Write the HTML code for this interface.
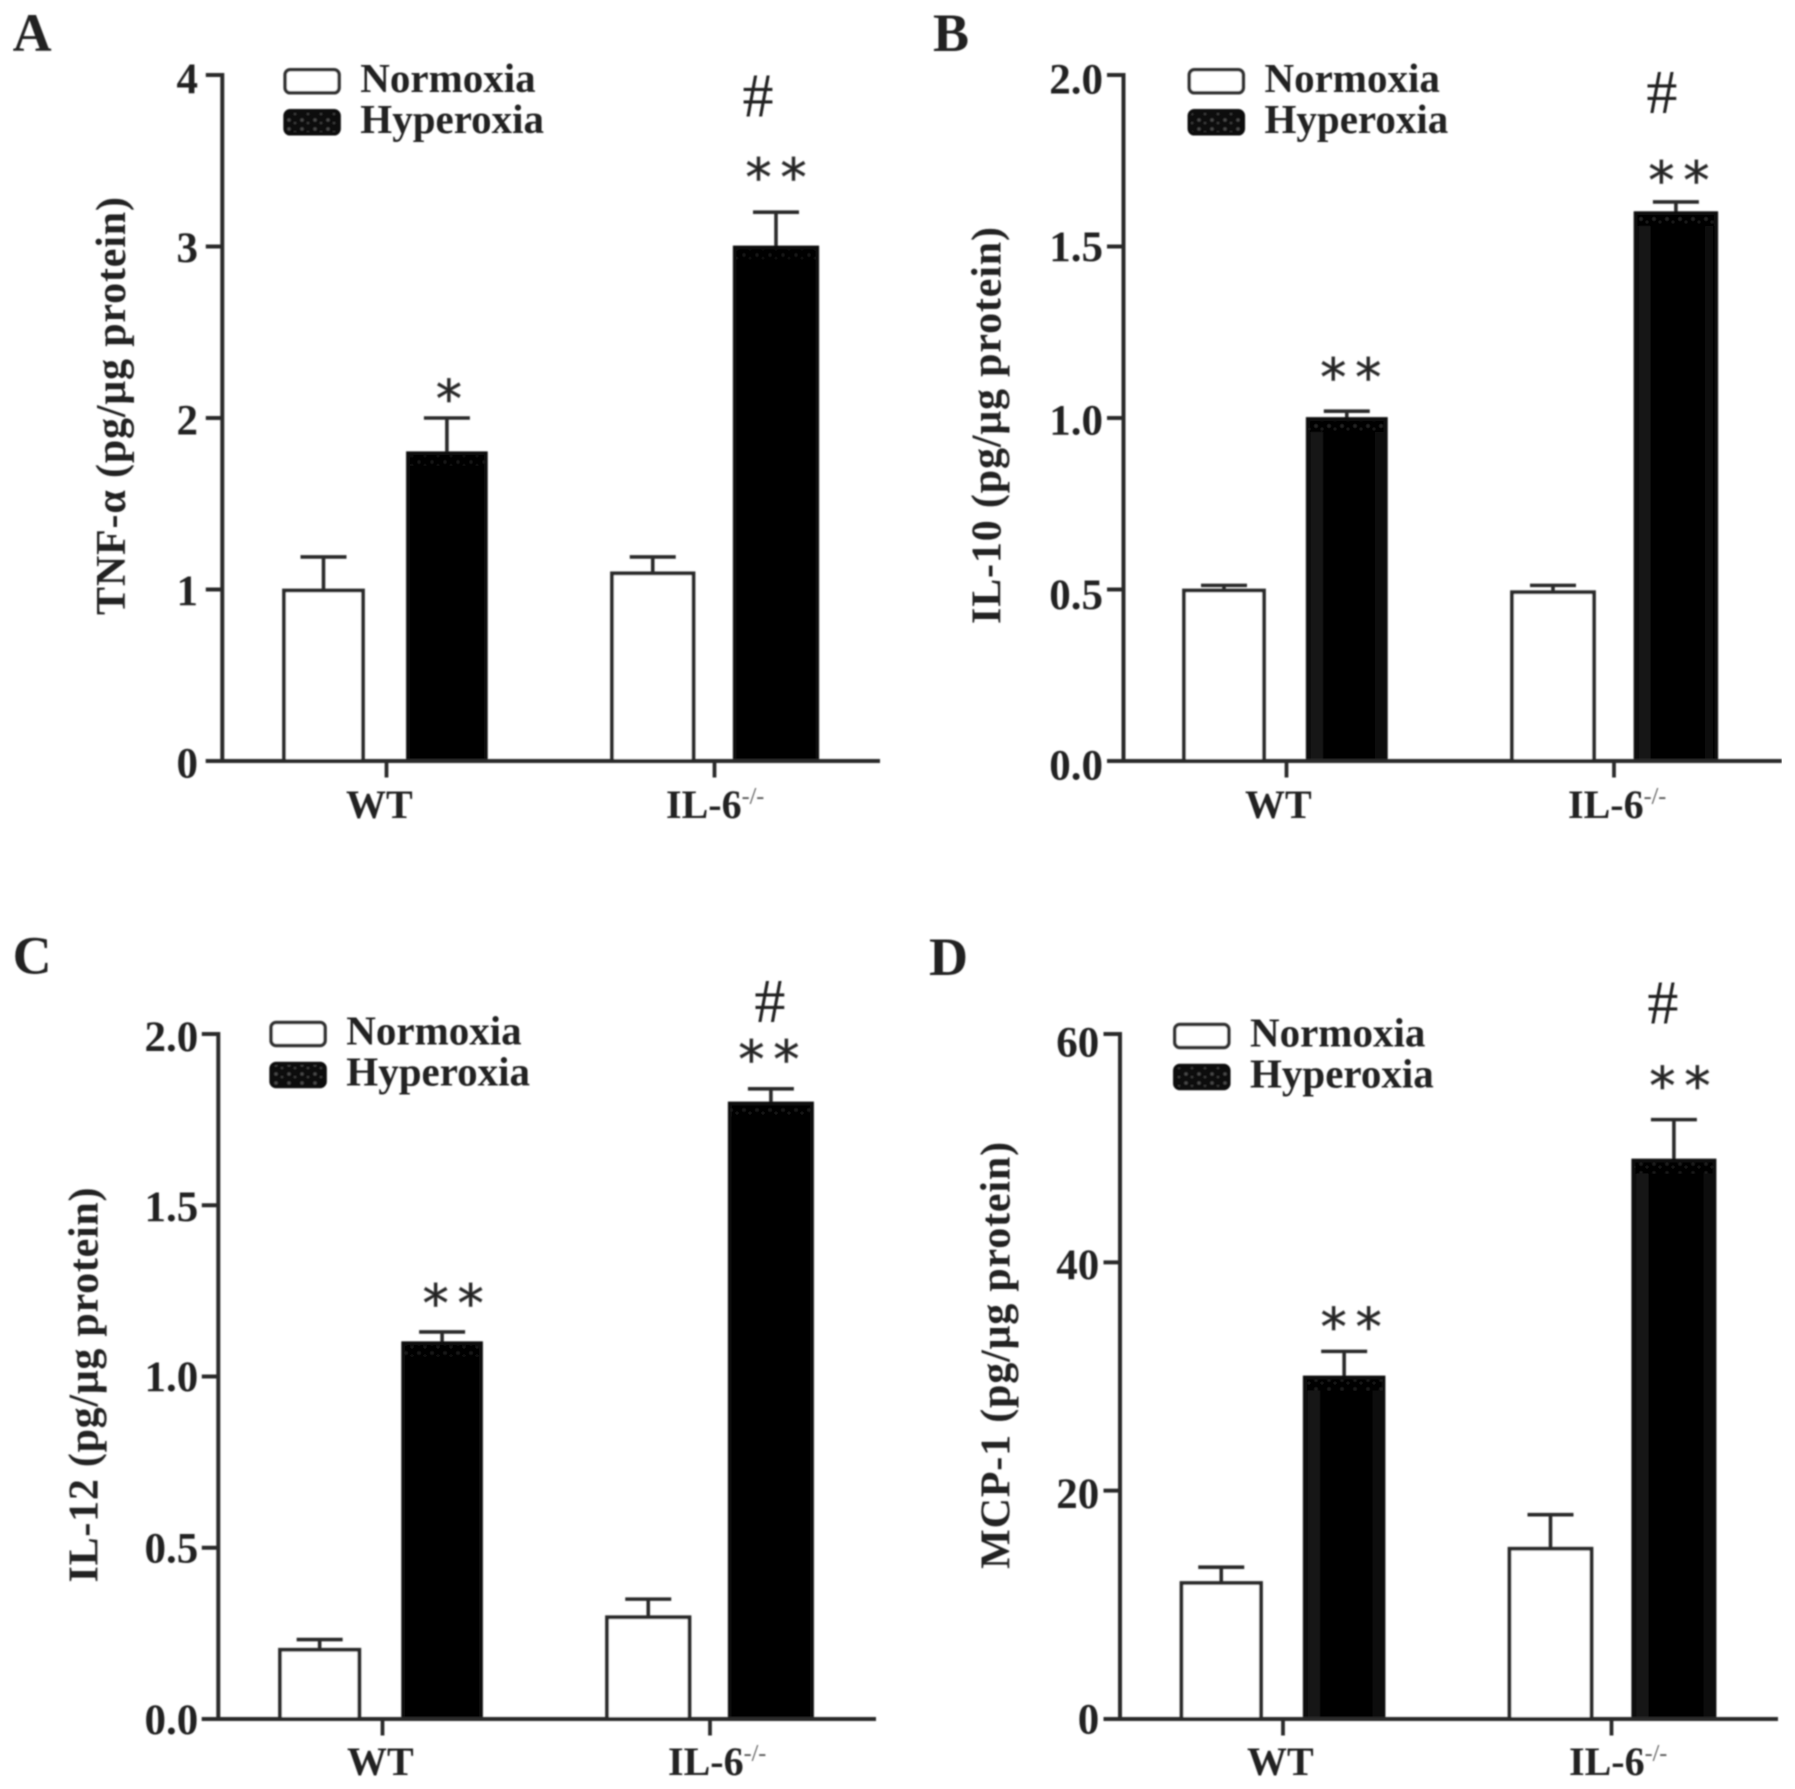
<!DOCTYPE html>
<html lang="en">
<head>
<meta charset="utf-8">
<title>Cytokine levels under normoxia and hyperoxia</title>
<style>
html,body{margin:0;padding:0;background:#fff;}
svg{display:block;}
text{font-family:"Liberation Serif",serif;fill:#222;}
</style>
</head>
<body>
<svg id="figure" xmlns="http://www.w3.org/2000/svg" width="1795" height="1789" viewBox="0 0 1795 1789">
<defs>
<filter id="soft" x="0" y="0" width="100%" height="100%"><feGaussianBlur stdDeviation="0.9"/></filter>
<pattern id="speckle" width="13" height="9" patternUnits="userSpaceOnUse">
<rect width="13" height="9" fill="#0c0c0c"/>
<circle cx="3" cy="3" r="1.6" fill="#4a4a4a"/>
<circle cx="9" cy="6" r="1.3" fill="#3a3a3a"/>
</pattern>
</defs>
<rect width="1795" height="1789" fill="#fff"/>
<g id="root" filter="url(#soft)"></g>
</svg>
<script>
const categories = ['WT', 'IL-6'];
const seriesNames = ['Normoxia', 'Hyperoxia'];

const ticksA = [0, 1, 2, 3, 4];
const tickLabelsA = ['0', '1', '2', '3', '4'];
const normoxiaA = [1.0, 1.1];
const normoxiaErrA = [0.19, 0.09];
const hyperoxiaA = [1.8, 3.0];
const hyperoxiaErrA = [0.2, 0.2];
const marksA = ['*', '**'];

const ticksB = [0, 0.5, 1, 1.5, 2];
const tickLabelsB = ['0.0', '0.5', '1.0', '1.5', '2.0'];
const normoxiaB = [0.5, 0.495];
const normoxiaErrB = [0.012, 0.017];
const hyperoxiaB = [1.0, 1.6];
const hyperoxiaErrB = [0.02, 0.03];
const marksB = ['**', '**'];

const ticksC = [0, 0.5, 1, 1.5, 2];
const tickLabelsC = ['0.0', '0.5', '1.0', '1.5', '2.0'];
const normoxiaC = [0.205, 0.3];
const normoxiaErrC = [0.027, 0.05];
const hyperoxiaC = [1.1, 1.8];
const hyperoxiaErrC = [0.03, 0.04];
const marksC = ['**', '**'];

const ticksD = [0, 20, 40, 60];
const tickLabelsD = ['0', '20', '40', '60'];
const normoxiaD = [12, 15];
const normoxiaErrD = [1.3, 2.9];
const hyperoxiaD = [30, 49];
const hyperoxiaErrD = [2.2, 3.5];
const marksD = ['**', '**'];

const NS = 'http://www.w3.org/2000/svg';
const root = document.getElementById('root');

function make(parent, tag, attrs, content) {
  const el = document.createElementNS(NS, tag);
  for (const k in attrs) el.setAttribute(k, attrs[k]);
  if (content !== undefined) el.textContent = content;
  parent.appendChild(el);
  return el;
}

function drawPanel(p) {
  const g = make(root, 'g', {});
  
  

  const yMax = p.ticks[p.ticks.length - 1];
  const y = v => p.zeroY - (v / yMax) * (p.zeroY - p.topY);
  const ink = '#2c2c2c';

  const letter = make(g, 'text', {x: p.letterX, y: p.letterY, 'font-size': 54, 'font-weight': 'bold'}, p.id);
  
  

  const title = make(g, 'text', {
    transform: 'translate(' + p.titleX + ',' + p.titleMid + ') rotate(-90)',
    'text-anchor': 'middle', 'font-size': 42, 'font-weight': 'bold',
    textLength: p.titleLen, lengthAdjust: 'spacing', fill: '#2c2c2c'
  }, p.title);
  
  

  p.ticks.forEach((t, i) => {
    const tick = make(g, 'line', {x1: p.axisX - 16.5, x2: p.axisX, y1: y(t), y2: y(t), stroke: ink, 'stroke-width': 4});
    
    
    const label = make(g, 'text', {x: p.labelRight, y: y(t) + p.labelDy[i] + 14.5, 'text-anchor': 'end', 'font-size': 43, 'font-weight': 'bold'}, p.tickLabels[i]);
    
    
  });

  categories.forEach((c, ci) => {
    [p.normoxia, p.hyperoxia].forEach((vals, si) => {
      const errs = si === 0 ? p.normoxiaErr : p.hyperoxiaErr;
      const x0 = p.barEdges[ci][si][0];
      const x1 = p.barEdges[ci][si][1];
      const cx = (x0 + x1) / 2;
      const top = y(vals[ci]) + 1;
      const errTop = y(vals[ci] + errs[ci]);

      const err = make(g, 'line', {x1: cx, x2: cx, y1: top, y2: errTop, stroke: ink, 'stroke-width': 3.6});
      
      
      const cap = make(g, 'line', {x1: cx - 23, x2: cx + 23, y1: errTop, y2: errTop, stroke: ink, 'stroke-width': 3.6});
      
      

      const bar = make(g, 'rect', {
        x: x0, y: top, width: x1 - x0, height: p.zeroY - top,
        fill: si === 0 ? '#fff' : '#000',
        stroke: si === 0 ? ink : '#0a0a0a', 'stroke-width': 3.8
      });
      
      

      if (si === 1) {
        const speck = make(g, 'rect', {x: x0 + 1, y: top + 2, width: x1 - x0 - 2, height: 11, fill: 'url(#speckle)', opacity: p.speck});
        
        
        if (p.bands) {
          const bandL = make(g, 'rect', {x: x0 + 3, y: top + 13, width: 12, height: p.zeroY - top - 15, fill: '#121212'});
          
          
          const bandR = make(g, 'rect', {x: x1 - 11, y: top + 13, width: 8, height: p.zeroY - top - 15, fill: '#0f0f0f'});
          
          
        }

        const cy = errTop - p.starGap[ci];
        const spacing = p.marks[ci].length > 1 ? 9 : 0;
        const stars = make(g, 'text', {
          x: cx + p.starShift[ci] + spacing / 2, y: cy + 25.5, 'text-anchor': 'middle', 'font-size': 52,
          'letter-spacing': spacing, fill: '#4a4a4a', stroke: '#4a4a4a', 'stroke-width': 0.7
        }, p.marks[ci]);
        stars.style.fontFamily = '"DejaVu Sans",sans-serif';
        
        
        if (ci === 1) {
          const hash = make(g, 'text', {
            x: cx + p.hashShift, y: errTop - p.hashGap + 20, 'text-anchor': 'middle', 'font-size': 62, fill: '#333'
          }, '#');
          
          
        }
      }
    });

    const xt = make(g, 'line', {x1: p.tickX[ci], x2: p.tickX[ci], y1: p.zeroY, y2: p.zeroY + 16.5, stroke: ink, 'stroke-width': 3.8});
    
    
    const xl = make(g, 'text', {x: p.catX[ci], y: p.catY, 'font-size': 40, 'font-weight': 'bold'}, c);
    
    
    if (c === 'IL-6') {
      const sup = make(xl, 'tspan', {dy: -14, 'font-size': 24, 'font-weight': 'normal', fill: '#555'}, '-/-');
      
      
    }
  });

  const yAxis = make(g, 'line', {x1: p.axisX, x2: p.axisX, y1: p.topY - 2, y2: p.zeroY + 2, stroke: ink, 'stroke-width': 4});
  
  
  const xAxis = make(g, 'line', {x1: p.axisX - 16.5, x2: p.axisEnd, y1: p.zeroY, y2: p.zeroY, stroke: ink, 'stroke-width': 4});
  
  

  const legend = make(g, 'g', {});
  
  
  seriesNames.forEach((s, i) => {
    const ly = p.legendY + i * 41;
    const sw = make(legend, 'rect', {
      x: p.legendX + 1.8, y: ly, width: 54, height: 23, rx: 5, ry: 5,
      fill: i === 0 ? '#fff' : 'url(#speckle)', stroke: i === 0 ? '#333' : '#111', 'stroke-width': 3.5
    });
    
    
    const lt = make(legend, 'text', {
      x: p.legendX + 77, y: ly + 22, 'font-size': 41, 'font-weight': 'bold', fill: '#333'
    }, s);
    
    
  });
}

drawPanel({
  id: 'A', title: 'TNF-α (pg/μg protein)', ticks: ticksA, tickLabels: tickLabelsA,
  normoxia: normoxiaA, normoxiaErr: normoxiaErrA, hyperoxia: hyperoxiaA, hyperoxiaErr: hyperoxiaErrA, marks: marksA,
  axisX: 222.3, axisEnd: 880, topY: 75, zeroY: 761,
  barEdges: [[[284, 363], [408, 485.8]], [[612, 693.5], [734.8, 817.2]]],
  tickX: [386.5, 714.5], catX: [346, 666], catY: 818,
  labelRight: 198, labelDy: [2, 1, 2, 1, 3.5],
  starGap: [26.3, 42], starShift: [2, 0], hashGap: 115.7, hashShift: -18, speck: 0.3, bands: false,
  legendX: 283.3, legendY: 69.8, letterX: 12.6, letterY: 51, titleX: 125, titleMid: 406, titleLen: 418
});
drawPanel({
  id: 'B', title: 'IL-10 (pg/μg protein)', ticks: ticksB, tickLabels: tickLabelsB,
  normoxia: normoxiaB, normoxiaErr: normoxiaErrB, hyperoxia: hyperoxiaB, hyperoxiaErr: hyperoxiaErrB, marks: marksB,
  axisX: 1123.5, axisEnd: 1781.7, topY: 75, zeroY: 761,
  barEdges: [[[1184, 1264], [1307.8, 1385.8]], [[1512, 1594], [1635.6, 1716.2]]],
  tickX: [1286.5, 1614], catX: [1245, 1568], catY: 818,
  labelRight: 1103, labelDy: [4, 5, 2, 0, 4],
  starGap: [41, 29], starShift: [4, 3], hashGap: 109, hashShift: -14, speck: 0.5, bands: true,
  legendX: 1187.5, legendY: 69.8, letterX: 933, letterY: 51, titleX: 1000.5, titleMid: 425.5, titleLen: 397
});
drawPanel({
  id: 'C', title: 'IL-12 (pg/μg protein)', ticks: ticksC, tickLabels: tickLabelsC,
  normoxia: normoxiaC, normoxiaErr: normoxiaErrC, hyperoxia: hyperoxiaC, hyperoxiaErr: hyperoxiaErrC, marks: marksC,
  axisX: 218.3, axisEnd: 876, topY: 1034, zeroY: 1719,
  barEdges: [[[280, 359.3], [403.2, 481]], [[607, 689.5], [729.8, 812]]],
  tickX: [382.5, 710], catX: [347, 668], catY: 1775,
  labelRight: 198.3, labelDy: [0.5, 0, 0, 1, 2.5],
  starGap: [36, 37], starShift: [11, -2], hashGap: 87, hashShift: -1, speck: 0.35, bands: false,
  legendX: 269.3, legendY: 1022.5, letterX: 12.6, letterY: 973.5, titleX: 97.6, titleMid: 1385, titleLen: 395
});
drawPanel({
  id: 'D', title: 'MCP-1 (pg/μg protein)', ticks: ticksD, tickLabels: tickLabelsD,
  normoxia: normoxiaD, normoxiaErr: normoxiaErrD, hyperoxia: hyperoxiaD, hyperoxiaErr: hyperoxiaErrD, marks: marksD,
  axisX: 1120, axisEnd: 1778, topY: 1034, zeroY: 1719,
  barEdges: [[[1181.5, 1261], [1304.8, 1383.5]], [[1509.5, 1591.5], [1633.3, 1714.5]]],
  tickX: [1283, 1611.5], catX: [1247, 1569], catY: 1775,
  labelRight: 1099.3, labelDy: [0, 3, 2, 8],
  starGap: [32, 41], starShift: [7, 6], hashGap: 116, hashShift: -11, speck: 0.4, bands: true,
  legendX: 1173, legendY: 1024.5, letterX: 929, letterY: 975, titleX: 1009.6, titleMid: 1355.4, titleLen: 427
});
</script>
</body>
</html>
